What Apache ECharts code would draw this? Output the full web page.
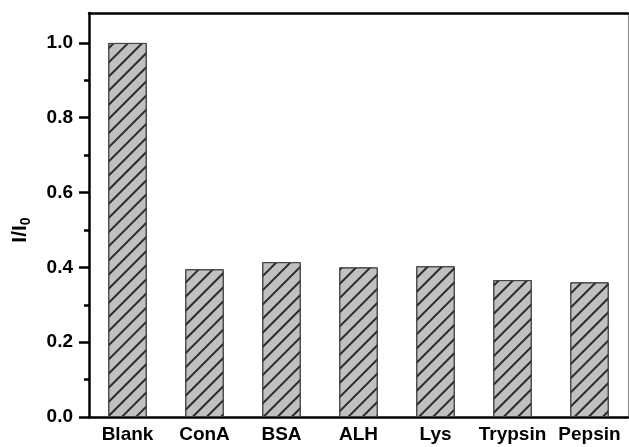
<!DOCTYPE html>
<html>
<head>
<meta charset="utf-8">
<script src="https://cdn.jsdelivr.net/npm/echarts@6/dist/echarts.min.js"></script>
<style>
  html, body { margin: 0; padding: 0; background: #fff; }
  #chart { width: 629px; height: 447px; }
</style>
</head>
<body>
<div id="chart"></div>
<script>
// data
const categories = ["Blank", "ConA", "BSA", "ALH", "Lys", "Trypsin", "Pepsin"];
const ratioValues = [1.0, 0.395, 0.414, 0.40, 0.403, 0.366, 0.36];
const yTicks = [0.0, 0.2, 0.4, 0.6, 0.8, 1.0];
const yMinorTicks = [0.1, 0.3, 0.5, 0.7, 0.9];

const font = "Liberation Sans, Arial, sans-serif";
const myChart = echarts.init(document.getElementById("chart"));

const options = {
  backgroundColor: "#fff",
  animation: false,
  grid: {
    left: 89,
    right: 1,
    top: 13,
    bottom: 30,
  },
  xAxis: [
    {
      type: "category",
      data: categories,
      boundaryGap: true,
      axisTick: { show: false },
      axisLabel: {
        interval: 0,
        color: "#000",
        fontFamily: font,
        fontWeight: "bold",
        fontSize: 19,
        margin: 8,
      },
      axisLine: { show: true, lineStyle: { color: "#000", width: 2.5 } },
    },
    {
      // top frame line
      type: "category",
      data: categories,
      position: "top",
      axisTick: { show: false },
      axisLabel: { show: false },
      axisLine: { show: true, onZero: false, lineStyle: { color: "#000", width: 2.5 } },
    },
  ],
  yAxis: [
    {
      type: "value",
      min: 0,
      max: 1.08,
      interval: 0.2,
      name: "{a|I/I}{b|0}",
      nameLocation: "middle",
      nameGap: 56,
      nameRotate: 90,
      nameTextStyle: {
        padding: [0, 30, 0, 0],
        rich: {
          a: { fontFamily: font, fontWeight: "bold", fontSize: 21, color: "#000" },
          b: { fontFamily: font, fontWeight: "bold", fontSize: 14, color: "#000", padding: [12, 0, 0, 0] },
        },
      },
      axisLabel: {
        color: "#000",
        fontFamily: font,
        fontWeight: "bold",
        fontSize: 19,
        margin: 16,
        customValues: yTicks,
        formatter: (v) => v.toFixed(1),
      },
      axisLine: { show: true, onZero: false, lineStyle: { color: "#000", width: 2.5 } },
      axisTick: { show: true, length: 10, customValues: yTicks, lineStyle: { color: "#000", width: 2.5 } },
      splitLine: { show: false },
    },
    {
      // minor ticks on the left axis
      type: "value",
      position: "left",
      min: 0,
      max: 1.08,
      axisLabel: { show: false },
      axisLine: { show: false },
      axisTick: { show: true, length: 5, customValues: yMinorTicks, lineStyle: { color: "#000", width: 2.5 } },
      splitLine: { show: false },
    },
    {
      // right frame line
      type: "value",
      position: "right",
      min: 0,
      max: 1.08,
      axisLabel: { show: false },
      axisTick: { show: false },
      splitLine: { show: false },
      axisLine: { show: true, lineStyle: { color: "#888", width: 1 } },
    },
  ],
  series: [
    {
      type: "bar",
      data: ratioValues,
      barWidth: "50%",
      itemStyle: {
        color: "#c0c0c0",
        borderColor: "#444",
        borderWidth: 1,
        decal: {
          symbol: "rect",
          symbolSize: 1,
          color: "#2a2a2a",
          dashArrayX: [1, 0],
          dashArrayY: [1.1, 7.4],
          rotation: -Math.PI / 4,
        },
      },
    },
  ],
};
myChart.setOption(options, true);
</script>
</body>
</html>
